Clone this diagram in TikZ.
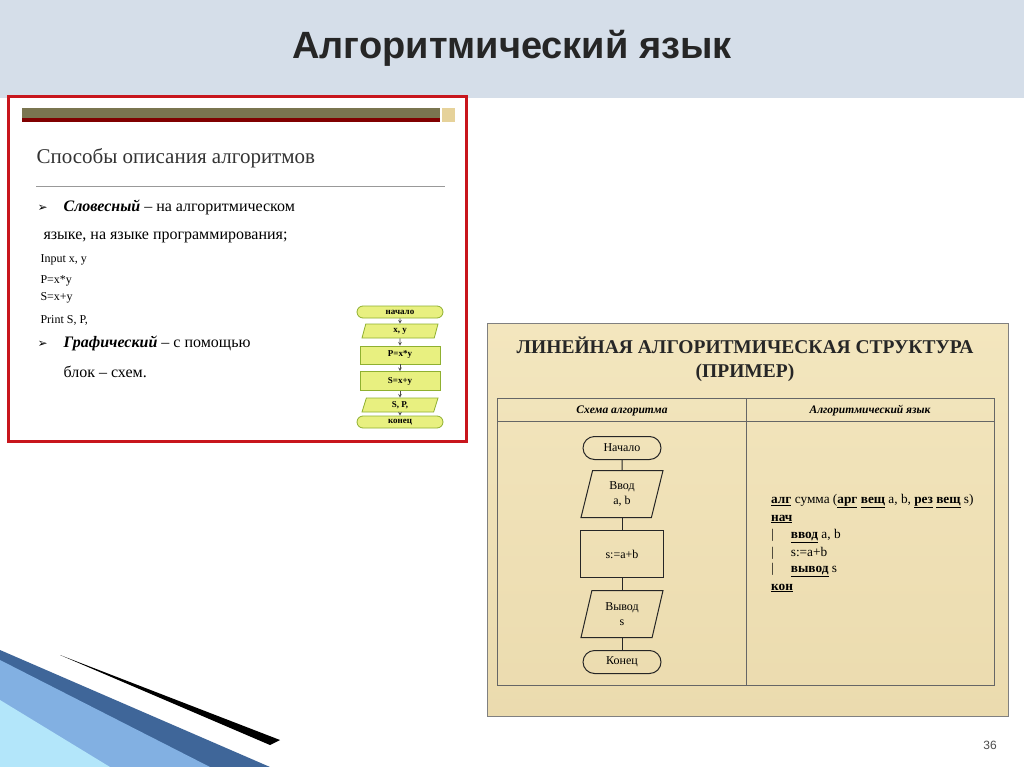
\documentclass[tikz,border=0pt]{standalone}
\usepackage{fontspec}
\setmainfont{Liberation Serif}
\newfontfamily\hd{Liberation Sans}
\newfontfamily\djvfont{DejaVu Sans}
\usetikzlibrary{shapes.geometric,shapes.misc}
\definecolor{band}{HTML}{D5DEE9}
\definecolor{redb}{HTML}{C8161D}
\definecolor{olive}{HTML}{7A7550}
\definecolor{ylw}{HTML}{E8F080}
\definecolor{ygrn}{HTML}{8FB030}
\definecolor{beige}{HTML}{F3E6BE}
\definecolor{beige2}{HTML}{E6D29A}
\tikzset{
 sfc/.style={draw=ygrn,fill=ylw,line width=0.8pt,font=\bfseries\fontsize{9}{9}\selectfont,inner sep=1pt},
 fc/.style={draw=black!85,line width=1pt,font=\fontsize{12}{15}\selectfont,align=center,inner sep=2pt},
 para/.style={fc,trapezium,trapezium left angle=68,trapezium right angle=112,minimum height=47pt,minimum width=82pt,trapezium stretches body},
 term/.style={fc,rounded rectangle,minimum width=82pt,minimum height=23pt},
 code/.style={anchor=west,font=\fontsize{13.3}{14}\selectfont,inner sep=0pt}
}
\newcommand{\bul}{{\djvfont\fontsize{12}{12}\selectfont ➢}\quad}
\begin{document}
\begin{tikzpicture}[x=1pt,y=-1pt]
\useasboundingbox (0,0) rectangle (1024,767);
\fill[white] (0,0) rectangle (1024,767);
\fill[band] (0,0) rectangle (1024,98);
\node[font=\hd\bfseries\fontsize{38}{40}\selectfont,text=black!85] (title) at (512,48) {Алгоритмический язык};
% decoration bottom left
\fill[cyan!50!blue!70!black] (0,650) -- (270,767) -- (0,767) -- cycle;
\fill[cyan!60!blue!50] (0,660) -- (210,767) -- (0,767) -- cycle;
\fill[cyan!30!white] (0,700) -- (110,767) -- (0,767) -- cycle;
\fill[black] (60,655) -- (280,740) -- (270,745) -- cycle;
% left panel
\draw[redb,line width=3pt] (8,97) rectangle (466,441);
\fill[olive] (22,108) rectangle (440,118);
\fill[red!50!black] (22,118) rectangle (440,122);
\fill[beige2] (442,108) rectangle (455,122);
\node[anchor=west,font=\fontsize{21}{22}\selectfont,text=black!80] (h) at (33,158) {Способы описания алгоритмов};
\draw[black!40] (36,186) -- (445,186);
\node[anchor=west,font=\fontsize{16}{16}\selectfont] (b1) at (34,207) {\bul\textbf{\textit{Словесный}} – на алгоритмическом};
\node[anchor=west,font=\fontsize{16}{16}\selectfont] (b1b) at (40,237) {языке, на языке программирования;};
\node[anchor=west,font=\fontsize{12}{12}\selectfont] (c1) at (37,260) {Input x, y};
\node[anchor=west,font=\fontsize{12}{12}\selectfont] (c2) at (37,281) {P=x*y};
\node[anchor=west,font=\fontsize{12}{12}\selectfont] (c3) at (37,298) {S=x+y};
\node[anchor=west,font=\fontsize{12}{12}\selectfont] (c4) at (37,320) {Print S, P,};
\node[anchor=west,font=\fontsize{16}{16}\selectfont] (b2) at (34,343) {\bul\textbf{\textit{Графический}} – с помощью};
\node[anchor=west,font=\fontsize{16}{16}\selectfont] (b2b) at (60,372) {блок – схем.};
% small flowchart
\node[sfc,rounded rectangle,minimum width=88pt,minimum height=12pt] (s1) at (400,312) {начало};
\node[sfc,trapezium,trapezium left angle=65,trapezium right angle=115,trapezium stretches body,minimum width=76pt,minimum height=14pt] (s2) at (400,331) {x, y};
\node[sfc,minimum width=80pt,minimum height=18pt] (s3) at (400,355) {P=x*y};
\node[sfc,minimum width=80pt,minimum height=19pt] (s4) at (400,381) {S=x+y};
\node[sfc,trapezium,trapezium left angle=65,trapezium right angle=115,trapezium stretches body,minimum width=76pt,minimum height=14pt] (s5) at (400,405) {S, P,};
\node[sfc,rounded rectangle,minimum width=88pt,minimum height=12pt] (s6) at (400,422) {конец};
\foreach \a/\b in {s1/s2,s2/s3,s3/s4,s4/s5,s5/s6} \draw[->,>=stealth,black!70,line width=0.6pt] (\a) -- (\b);
% right panel
\shade[top color=beige,bottom color=beige2!80,draw=black!50] (487,323) rectangle (1008,716);
\node[font=\bfseries\fontsize{19.5}{24}\selectfont,align=center,text=black!85] (rt) at (745,359) {ЛИНЕЙНАЯ АЛГОРИТМИЧЕСКАЯ СТРУКТУРА\\(ПРИМЕР)};
\draw[black!60,line width=0.8pt] (497,398) rectangle (994,685);
\draw[black!60,line width=0.8pt] (497,421) -- (994,421);
\draw[black!60,line width=0.8pt] (746,398) -- (746,685);
\node[font=\bfseries\itshape\fontsize{11.5}{12}\selectfont] (h1) at (622,411) {Схема алгоритма};
\node[font=\bfseries\itshape\fontsize{11.5}{12}\selectfont] (h2) at (870,411) {Алгоритмический язык};
\node[term] (n1) at (622,448) {Начало};
\node[para] (n2) at (622,494) {Ввод\\a, b};
\node[fc,minimum width=83pt,minimum height=47pt] (n3) at (622,554) {s:=a+b};
\node[para] (n4) at (622,614) {Вывод\\s};
\node[term] (n5) at (622,662) {Конец};
\foreach \a/\b in {n1/n2,n2/n3,n3/n4,n4/n5} \draw[black!85,line width=1pt] (\a) -- (\b);
\node[code] (k1) at (771,501) {\textbf{\underline{алг}} сумма (\textbf{\underline{арг}} \textbf{\underline{вещ}} a, b, \textbf{\underline{рез}} \textbf{\underline{вещ}} s)};
\node[code] (k2) at (771,519) {\textbf{\underline{нач}}};
\node[code] (k3) at (771,536) {|\hspace{17pt}\textbf{\underline{ввод}} a, b};
\node[code] (k4) at (771,553) {|\hspace{17pt}s:=a+b};
\node[code] (k5) at (771,570) {|\hspace{17pt}\textbf{\underline{вывод}} s};
\node[code] (k6) at (771,588) {\textbf{\underline{кон}}};
\node[font=\hd\fontsize{12}{12}\selectfont,text=black!70] (pg) at (990,745) {36};
\end{tikzpicture}
\end{document}
